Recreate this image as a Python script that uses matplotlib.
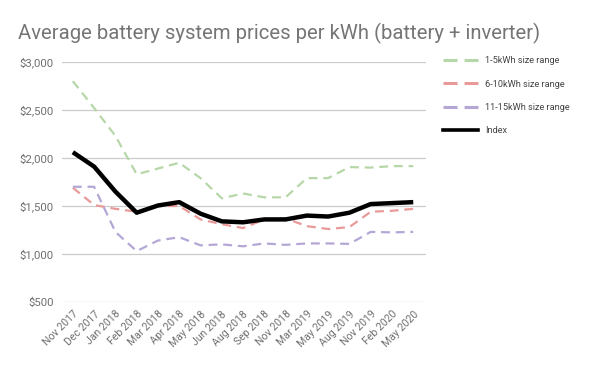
import matplotlib
matplotlib.use("Agg")
import matplotlib.pyplot as plt
from matplotlib.lines import Line2D
from matplotlib.ticker import FuncFormatter

plt.rcParams["font.family"] = ["Roboto", "DejaVu Sans"]

months = ["Nov 2017", "Dec 2017", "Jan 2018", "Feb 2018", "Mar 2018", "Apr 2018",
          "May 2018", "Jun 2018", "Aug 2018", "Sep 2018", "Nov 2018", "Mar 2019",
          "May 2019", "Aug 2019", "Nov 2019", "Feb 2020", "May 2020"]

small = [2800, 2520, 2230, 1830, 1890, 1950, 1790, 1580, 1630, 1590, 1590,
         1790, 1790, 1905, 1900, 1915, 1915]
medium = [1690, 1510, 1470, 1440, 1500, 1500, 1360, 1310, 1270, 1360, 1370,
          1290, 1260, 1280, 1440, 1450, 1470]
large = [1700, 1700, 1230, 1030, 1140, 1175, 1090, 1100, 1080, 1110, 1095,
         1110, 1110, 1105, 1230, 1225, 1230]
index = [2060, 1910, 1650, 1430, 1505, 1540, 1420, 1340, 1330, 1360, 1360,
         1400, 1390, 1430, 1520, 1530, 1540]

series = [
    ("1-5kWh size range", small, "#b6d7a8"),
    ("6-10kWh size range", medium, "#ea9999"),
    ("11-15kWh size range", large, "#b4a7d6"),
]

x = list(range(len(months)))

fig = plt.figure(figsize=(6, 3.71), dpi=100)
ax = fig.add_axes([0.103, 0.186, 0.607, 0.647])

dash = (0, (4, 2.6))
handles = []
for label, vals, col in series:
    ax.plot(x, vals, color=col, lw=1.6, ls=dash)
    # legend shows two longer dashes
    handles.append(Line2D([], [], color=col, lw=2.2, ls=(0, (4.6, 2.3)), label=label))
ax.plot(x, index, color="black", lw=3.2, solid_capstyle="butt")
handles.append(Line2D([], [], color="black", lw=2.6, label="Index"))

ax.set_ylim(500, 3000)
ax.set_yticks([500, 1000, 1500, 2000, 2500, 3000])
ax.yaxis.set_major_formatter(FuncFormatter(lambda v, p: f"${v:,.0f}"))
ax.set_xlim(-0.52, len(months) - 0.4)
ax.set_xticks(x)
ax.set_xticklabels(months, rotation=45, ha="right", rotation_mode="anchor")

ax.grid(axis="y", color="#cccccc", lw=0.9)
ax.set_axisbelow(True)
for s in ax.spines.values():
    s.set_visible(False)
ax.tick_params(length=0, colors="#6f6f6f", labelsize=8.2)
ax.tick_params(axis="x", labelsize=7.6, pad=5)
ax.tick_params(axis="y", pad=6)

fig.text(0.03, 0.895, "Average battery system prices per kWh (battery + inverter)",
         fontsize=14.6, color="#757575")

fig.legend(handles=handles, loc="upper left", bbox_to_anchor=(0.725, 0.87),
           frameon=False, fontsize=6.6, labelcolor="#444444", handlelength=3.8,
           labelspacing=1.55, handletextpad=0.8)

fig.savefig("out.png", dpi=100)
